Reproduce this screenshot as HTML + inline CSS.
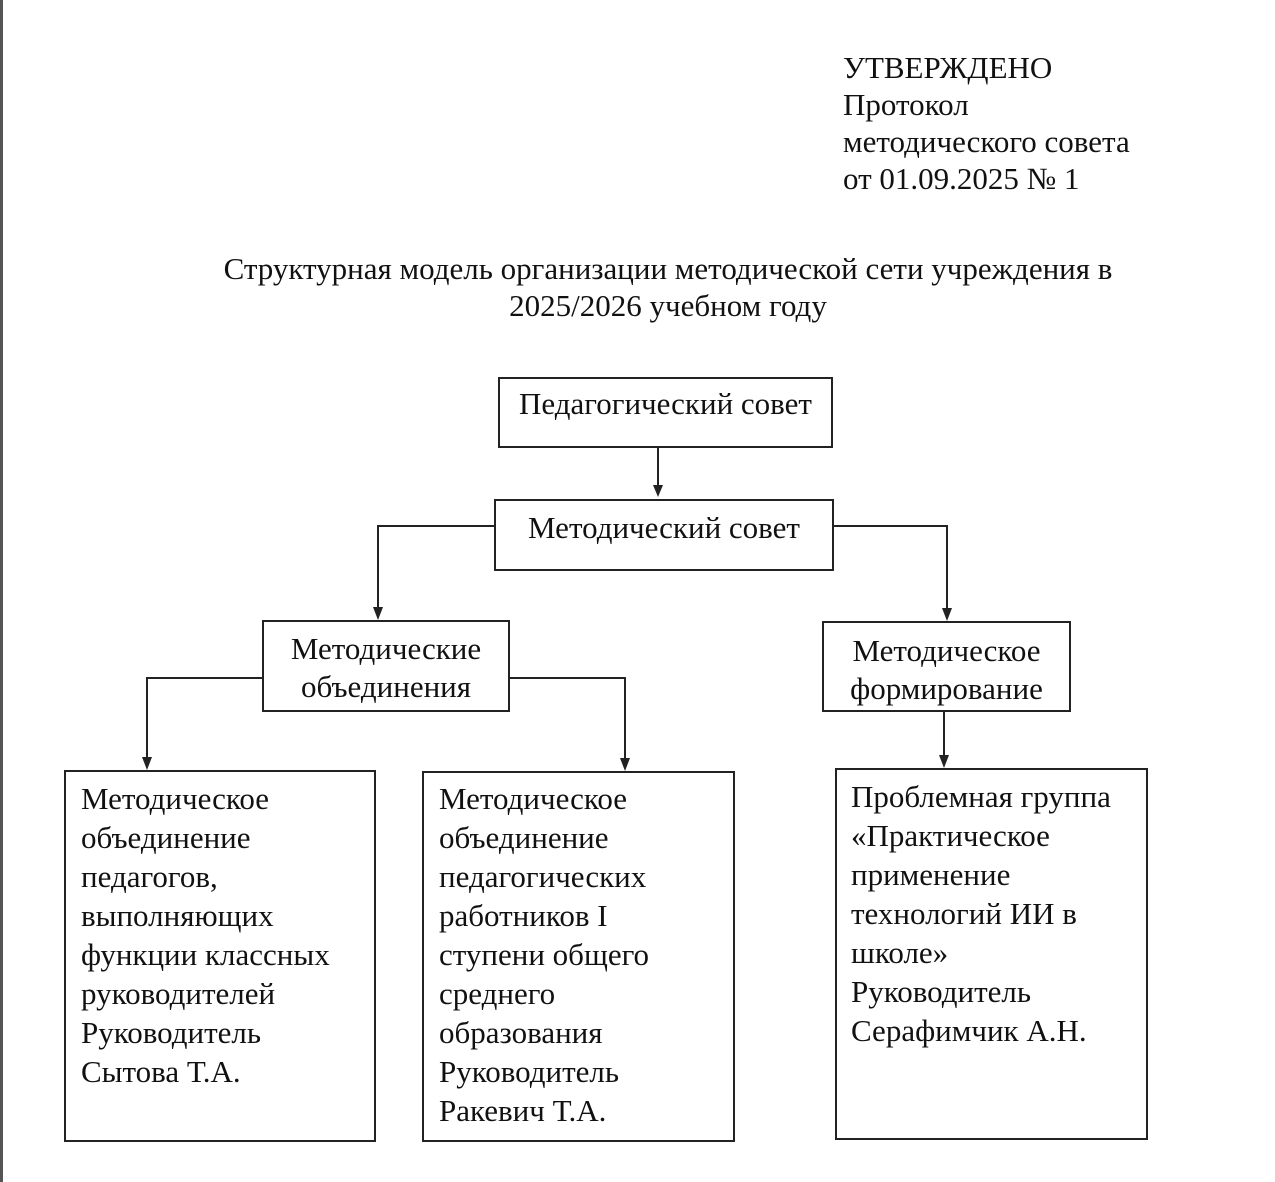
<!DOCTYPE html>
<html><head><meta charset="utf-8"><style>
html,body{margin:0;padding:0;background:#fff;}
body{width:1275px;height:1182px;position:relative;overflow:hidden;font-family:"Liberation Serif","Noto Serif CJK SC",serif;color:#111;font-size:31px;}
.t{position:absolute;white-space:nowrap;line-height:37px;}
.b{position:absolute;border:2px solid #222;box-sizing:border-box;}
.c{text-align:center;}
.body{position:absolute;line-height:39px;white-space:nowrap;}
#lb{position:absolute;left:0;top:0;width:3px;height:1182px;background:#555;}
</style></head><body>
<div id="lb"></div>
<div class="t" style="left:843px;top:49px;">УТВЕРЖДЕНО<br>Протокол<br>методического совета<br>от 01.09.2025 № 1</div>
<div class="t c" style="left:0;width:1336px;top:250px;">Структурная модель организации методической сети учреждения в<br>2025/2026 учебном году</div>

<div class="b c" style="left:498px;top:377px;width:335px;height:71px;line-height:50px;">Педагогический совет</div>
<div class="b c" style="left:494px;top:499px;width:340px;height:72px;line-height:54px;">Методический совет</div>
<div class="b c" style="left:262px;top:620px;width:248px;height:92px;line-height:38px;padding-top:8px;">Методические<br>объединения</div>
<div class="b c" style="left:822px;top:621px;width:249px;height:91px;line-height:38px;padding-top:9px;">Методическое<br>формирование</div>

<div class="b" style="left:64px;top:770px;width:312px;height:372px;"></div>
<div class="b" style="left:422px;top:771px;width:313px;height:371px;"></div>
<div class="b" style="left:835px;top:768px;width:313px;height:372px;"></div>
<div class="body" style="left:81px;top:779px;">Методическое<br>объединение<br>педагогов,<br>выполняющих<br>функции классных<br>руководителей<br>Руководитель<br>Сытова Т.А.</div>
<div class="body" style="left:439px;top:779px;">Методическое<br>объединение<br>педагогических<br>работников I<br>ступени общего<br>среднего<br>образования<br>Руководитель<br>Ракевич Т.А.</div>
<div class="body" style="left:851px;top:777px;">Проблемная группа<br>«Практическое<br>применение<br>технологий ИИ в<br>школе»<br>Руководитель<br>Серафимчик А.Н.</div>

<svg width="1275" height="1182" style="position:absolute;left:0;top:0" fill="none" stroke="#222" stroke-width="2">
<path d="M658 448 V487"/>
<path d="M494 526 H378 V610"/>
<path d="M833 526 H947 V611"/>
<path d="M262 678 H147 V760"/>
<path d="M510 678 H625 V761"/>
<path d="M944 712 V758"/>
<g fill="#222" stroke="none">
<path d="M653 485 L663 485 L658 497z"/>
<path d="M373 607 L383 607 L378 620z"/>
<path d="M942 608 L952 608 L947 621z"/>
<path d="M142 757 L152 757 L147 770z"/>
<path d="M620 758 L630 758 L625 771z"/>
<path d="M939 755 L949 755 L944 768z"/>
</g>
</svg>
</body></html>
